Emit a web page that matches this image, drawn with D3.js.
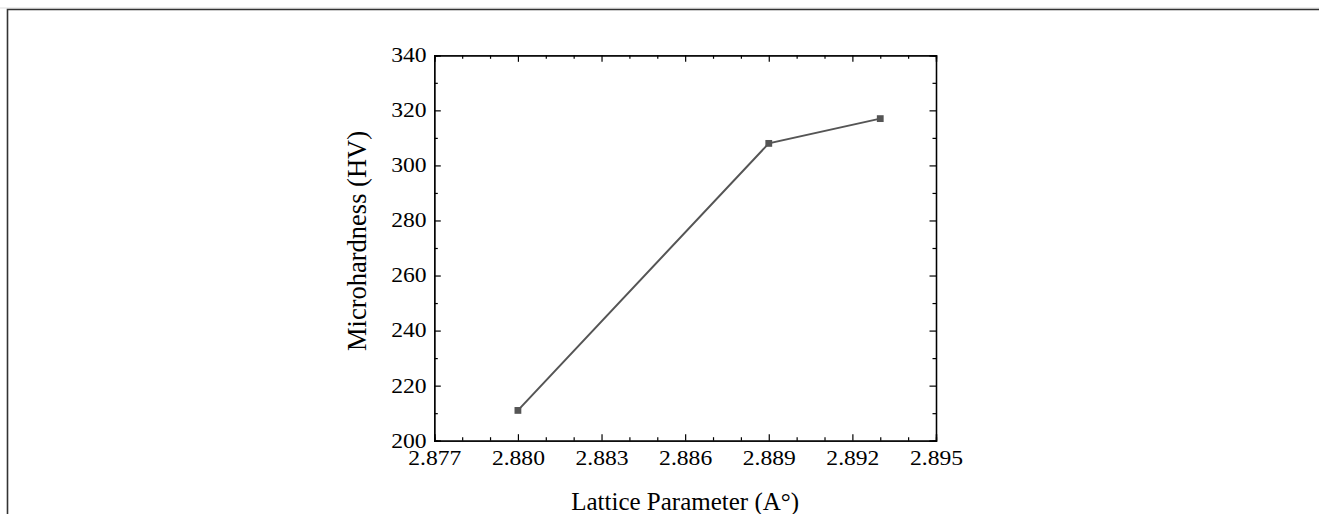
<!DOCTYPE html>
<html>
<head>
<meta charset="utf-8">
<script src="https://cdn.jsdelivr.net/npm/d3@7"></script>
<style>
  body { margin: 0; background: #fff; }
  svg { display: block; }
  text { font-family: "Liberation Serif", "Times New Roman", serif; fill: #000; }
</style>
</head>
<body>
<div id="chart"></div>
<script>
// data
const latticeParam = [2.880, 2.889, 2.893];
const microhardness = [211, 308, 317];
const xTicks = [2.877, 2.880, 2.883, 2.886, 2.889, 2.892, 2.895];
const xMinor = [2.878, 2.879, 2.881, 2.882, 2.884, 2.885, 2.887, 2.888, 2.890, 2.891, 2.893, 2.894];
const yTicks = [200, 220, 240, 260, 280, 300, 320, 340];
const yMinor = [210, 230, 250, 270, 290, 310, 330];

const W = 1319, H = 514;
const plot = {left: 434.3, right: 936, top: 55.3, bottom: 440.7};

const svg = d3.select("#chart").append("svg")
  .attr("width", W).attr("height", H);

// page frame (top + left edge)
svg.append("line").attr("x1", 0).attr("x2", W).attr("y1", 8).attr("y2", 8)
  .style("stroke", "#ddd").style("stroke-width", 1);
svg.append("path").attr("d", `M7.5,${H} V9.5 H${W}`)
  .style("fill", "none").style("stroke", "#333").style("stroke-width", 1.6);

const x = d3.scaleLinear().domain([2.877, 2.895]).range([plot.left, plot.right]);
const y = d3.scaleLinear().domain([200, 340]).range([plot.bottom, plot.top]);

const fmtX = d3.format(".3f");

function styleAxis(g) {
  g.select(".domain").style("stroke", "#000").style("stroke-width", 1.3);
  g.selectAll(".tick line").style("stroke", "#000").style("stroke-width", 1.2);
  g.selectAll(".tick text").style("font-size", "20px")
    .style("font-family", "Liberation Serif, Times New Roman, serif")
    .attr("fill", "#000")
    .attr("transform", "scale(1.18,1)");
}

// bottom axis
svg.append("g").attr("transform", `translate(0,${plot.bottom})`)
  .call(d3.axisBottom(x).tickValues(xTicks).tickFormat(fmtX).tickSize(-6.5).tickPadding(10))
  .call(styleAxis);
svg.append("g").attr("transform", `translate(0,${plot.bottom})`)
  .call(d3.axisBottom(x).tickValues(xMinor).tickFormat("").tickSize(-3.5))
  .call(styleAxis);

// top axis (no labels)
svg.append("g").attr("transform", `translate(0,${plot.top})`)
  .call(d3.axisTop(x).tickValues(xTicks).tickFormat("").tickSize(-6.5))
  .call(styleAxis);
svg.append("g").attr("transform", `translate(0,${plot.top})`)
  .call(d3.axisTop(x).tickValues(xMinor).tickFormat("").tickSize(-3.5))
  .call(styleAxis);

// left axis
svg.append("g").attr("transform", `translate(${plot.left},0)`)
  .call(d3.axisLeft(y).tickValues(yTicks).tickSize(-6.5).tickPadding(6.5))
  .call(styleAxis);
svg.append("g").attr("transform", `translate(${plot.left},0)`)
  .call(d3.axisLeft(y).tickValues(yMinor).tickFormat("").tickSize(-3.5))
  .call(styleAxis);

// right axis (no labels)
svg.append("g").attr("transform", `translate(${plot.right},0)`)
  .call(d3.axisRight(y).tickValues(yTicks).tickFormat("").tickSize(-6.5))
  .call(styleAxis);
svg.append("g").attr("transform", `translate(${plot.right},0)`)
  .call(d3.axisRight(y).tickValues(yMinor).tickFormat("").tickSize(-3.5))
  .call(styleAxis);

// the series
const pts = latticeParam.map((d, i) => ({x: d, y: microhardness[i]}));

svg.append("path")
  .datum(pts)
  .attr("d", d3.line().x(d => x(d.x)).y(d => y(d.y)))
  .style("fill", "none")
  .style("stroke", "#555")
  .style("stroke-width", 2);

const ms = 6.8;
svg.selectAll(".marker")
  .data(pts)
  .enter().append("rect")
  .attr("class", "marker")
  .attr("x", d => x(d.x) - ms / 2)
  .attr("y", d => y(d.y) - ms / 2)
  .attr("width", ms).attr("height", ms)
  .style("fill", "#555");

// axis titles
svg.append("text")
  .attr("x", (plot.left + plot.right) / 2)
  .attr("y", 509.5)
  .attr("text-anchor", "middle")
  .style("font-size", "25px")
  .text("Lattice Parameter (A°)");

svg.append("text")
  .attr("transform", "translate(365.5,241) rotate(-90)")
  .attr("text-anchor", "middle")
  .style("font-size", "26.5px")
  .text("Microhardness (HV)");
</script>
</body>
</html>
